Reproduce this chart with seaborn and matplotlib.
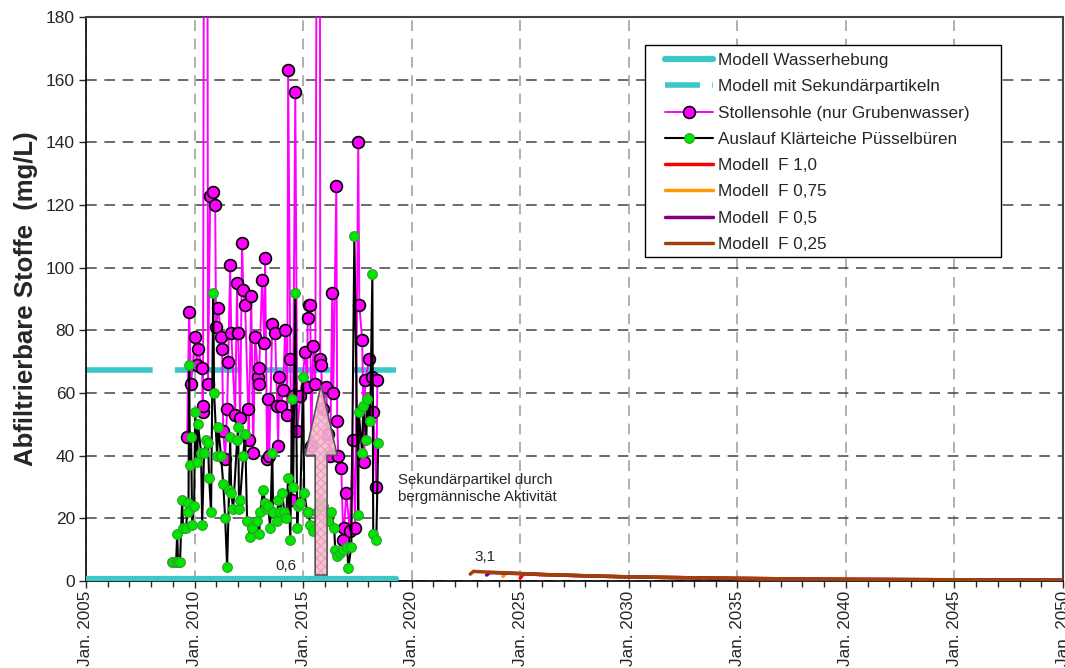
import numpy as np
import pandas as pd
import matplotlib
matplotlib.use("Agg")
import matplotlib.pyplot as plt
from matplotlib.lines import Line2D
from matplotlib.patches import FancyArrow, Rectangle
import seaborn as sns

# ---- measured series (decimal year, mg/L) ----
stollen_year = [2009.66, 2009.75, 2009.84, 2010.03, 2010.12, 2010.16, 2010.35, 2010.37, 2010.39,
                2010.53, 2010.62, 2010.72, 2010.86, 2010.95, 2010.99, 2011.09, 2011.22, 2011.27,
                2011.32, 2011.41, 2011.50, 2011.55, 2011.64, 2011.69, 2011.87, 2011.96, 2011.98,
                2012.01, 2012.10, 2012.19, 2012.24, 2012.33, 2012.47, 2012.49, 2012.61, 2012.70,
                2012.79, 2012.93, 2012.95, 2012.98, 2013.11, 2013.21, 2013.25, 2013.34, 2013.39,
                2013.44, 2013.58, 2013.71, 2013.81, 2013.85, 2013.90, 2013.99, 2014.08, 2014.17,
                2014.27, 2014.31, 2014.41, 2014.50, 2014.54, 2014.64, 2014.73, 2014.87, 2015.10,
                2015.19, 2015.21, 2015.28, 2015.33, 2015.37, 2015.47, 2015.56, 2015.74, 2015.79,
                2015.83, 2015.90, 2016.06, 2016.15, 2016.25, 2016.34, 2016.39, 2016.53, 2016.57,
                2016.62, 2016.76, 2016.85, 2016.89, 2016.99, 2017.15, 2017.28, 2017.40, 2017.54,
                2017.59, 2017.72, 2017.82, 2017.86, 2018.05, 2018.19, 2018.23, 2018.37, 2018.42]
stollen_val = [46, 86, 63, 78, 69, 74, 68, 54, 56,
               600, 63, 123, 124, 120, 81, 87, 78, 74,
               48, 39, 55, 70, 101, 79, 53, 95, 79,
               79, 52, 108, 93, 88, 55, 45, 91, 41,
               78, 65, 63, 68, 96, 76, 103, 39, 58,
               40, 82, 79, 56, 43, 65, 56, 61, 80,
               53, 163, 71, 26, 59, 156, 48, 59, 73,
               62, 84, 88, 88, 43, 75, 63, 500, 71,
               69, 55, 62, 47, 40, 92, 60, 126, 51,
               40, 36, 13, 17, 28, 16, 45, 17, 140,
               88, 77, 38, 64, 71, 65, 54, 30, 64]

auslauf_year = [2008.96, 2009.01, 2009.15, 2009.20, 2009.24, 2009.33, 2009.43, 2009.47, 2009.61,
                2009.70, 2009.72, 2009.75, 2009.79, 2009.84, 2009.89, 2009.98, 2010.03, 2010.12,
                2010.16, 2010.30, 2010.35, 2010.44, 2010.53, 2010.62, 2010.67, 2010.76, 2010.86,
                2010.90, 2011.04, 2011.09, 2011.22, 2011.32, 2011.41, 2011.50, 2011.59, 2011.64,
                2011.69, 2011.78, 2011.96, 2012.01, 2012.05, 2012.10, 2012.24, 2012.33, 2012.42,
                2012.56, 2012.65, 2012.88, 2012.98, 2013.02, 2013.16, 2013.25, 2013.34, 2013.39,
                2013.48, 2013.58, 2013.62, 2013.81, 2013.85, 2013.94, 2014.04, 2014.13, 2014.22,
                2014.31, 2014.41, 2014.50, 2014.54, 2014.64, 2014.73, 2014.77, 2014.87, 2015.00,
                2015.05, 2015.19, 2015.24, 2015.33, 2015.47, 2015.65, 2015.79, 2015.93, 2016.16,
                2016.30, 2016.43, 2016.48, 2016.57, 2016.71, 2016.85, 2017.03, 2017.08, 2017.22,
                2017.36, 2017.54, 2017.56, 2017.72, 2017.77, 2017.91, 2017.96, 2018.09, 2018.19,
                2018.23, 2018.37, 2018.46]
auslauf_val = [6, 6, 6, 15, 6, 6, 26, 17, 17,
               25, 22, 69, 37, 46, 18, 24, 54, 38,
               50, 41, 18, 41, 45, 44, 33, 22, 92,
               60, 40, 49, 40, 31, 20, 4.5, 29, 46,
               28, 23, 45, 49, 23, 26, 40, 47, 19,
               14, 17, 19, 15, 22, 29, 25, 23, 24,
               17, 41, 22, 19, 26, 22, 28, 22, 20,
               33, 13, 58, 30, 92, 17, 24, 25, 65,
               28, 22, 22, 18, 16, 22, 25, 24, 19,
               22, 17, 10, 8, 9, 10, 11, 4, 11,
               110, 21, 54, 41, 56, 45, 58, 51, 98,
               15, 13, 44]

# ---- model series ----
wasser_year = [2005.0, 2019.3]
wasser_val = [0.6, 0.6]
sekundaer_year = [2005.0, 2019.3]
sekundaer_val = [67.3, 67.3]

f025_year = [2022.70, 2022.85, 2023.0, 2024.0, 2025.0, 2026.0, 2027.0, 2028.0, 2029.0, 2030.0,
             2032.0, 2035.0, 2038.0, 2040.0, 2045.0, 2050.0]
f025_val = [2.2, 3.1, 3.0, 2.7, 2.4, 2.1, 1.9, 1.7, 1.5, 1.35, 1.1, 0.85, 0.65, 0.55, 0.4, 0.3]
f05_year = [2023.45, 2023.6, 2024.0, 2025.0, 2026.0, 2028.0, 2030.0, 2035.0, 2040.0, 2045.0, 2050.0]
f05_val = [1.9, 2.7, 2.6, 2.35, 2.05, 1.65, 1.3, 0.82, 0.52, 0.38, 0.28]
f075_year = [2024.2, 2024.35, 2025.0, 2026.0, 2028.0, 2030.0, 2035.0, 2040.0, 2045.0, 2050.0]
f075_val = [1.5, 2.5, 2.35, 2.05, 1.65, 1.3, 0.82, 0.52, 0.38, 0.28]
f10_year = [2025.0, 2025.15, 2026.0, 2028.0, 2030.0, 2035.0, 2040.0, 2045.0, 2050.0]
f10_val = [0.9, 2.3, 2.05, 1.65, 1.3, 0.82, 0.52, 0.38, 0.28]

year_ticks = list(range(2005, 2051, 5))
tick_labels = [f"Jan. {y}" for y in year_ticks]

CYAN = "#3CC8C8"
MAGENTA = "#FF00FF"
GREEN = "#00E600"

sns.set_theme(style="white")
plt.rcParams["font.family"] = ["Liberation Sans", "DejaVu Sans"]

W, H = 1065, 668
fig = plt.figure(figsize=(W / 100, H / 100), dpi=100)
ax = fig.add_axes([86 / W, 1 - 581 / H, (1063 - 86) / W, (581 - 17) / H])

# measured data
sns.lineplot(x=stollen_year, y=stollen_val, ax=ax, estimator=None, sort=False,
             color=MAGENTA, lw=1.4, marker="o", markersize=8.5,
             markerfacecolor=MAGENTA, markeredgecolor="black", markeredgewidth=1.2, zorder=3)
sns.lineplot(x=auslauf_year, y=auslauf_val, ax=ax, estimator=None, sort=False,
             color="black", lw=1.5, marker="o", markersize=7,
             markerfacecolor=GREEN, markeredgecolor="#2E9E2E", markeredgewidth=0.8, zorder=4)

# model lines
sns.lineplot(x=sekundaer_year, y=sekundaer_val, ax=ax, estimator=None, color=CYAN, lw=4,
             zorder=2).lines[-1].set_dashes((12, 4))
sns.lineplot(x=wasser_year, y=wasser_val, ax=ax, estimator=None, color=CYAN, lw=4.5, zorder=5)
sns.lineplot(x=f10_year, y=f10_val, ax=ax, estimator=None, color="#FF0000", lw=2.5, zorder=5)
sns.lineplot(x=f075_year, y=f075_val, ax=ax, estimator=None, color="#FF9900", lw=2.5, zorder=5)
sns.lineplot(x=f05_year, y=f05_val, ax=ax, estimator=None, color="#800080", lw=2.5, zorder=5)
sns.lineplot(x=f025_year, y=f025_val, ax=ax, estimator=None, color="#A0400A", lw=2.5, zorder=6)

# arrow marking the secondary particles: pink fill, fine hatch, grey outline
arrow_kw = dict(x=2015.83, y=1.9, dx=0, dy=60.7, width=0.55, head_width=1.48,
                head_length=22.5, length_includes_head=True)
ax.add_patch(FancyArrow(**arrow_kw, facecolor="#F7BCD2", edgecolor="#EA9CBA", lw=0,
                        hatch="xxxx", alpha=0.88, zorder=7))
ax.add_patch(FancyArrow(**arrow_kw, facecolor="none", edgecolor="#555555", lw=1.2, zorder=7))

ax.text(2019.35, 34.6, "Sekundärpartikel durch\nbergmännische Aktivität", fontsize=10.8,
        ha="left", va="top", linespacing=1.35, zorder=8)
ax.text(2014.22, 4.8, "0,6", fontsize=11, ha="center", va="center", zorder=8)
ax.text(2023.4, 7.7, "3,1", fontsize=11, ha="center", va="center", zorder=8)

# axes
ax.set_xlim(2005, 2050)
ax.set_ylim(0, 180)
ax.set_xticks(year_ticks)
ax.set_xticks(range(2005, 2051), minor=True)
ax.set_xticklabels(tick_labels, rotation=90, fontsize=12.3, ha="center", va="top")
ax.set_yticks(range(0, 181, 20))
ax.tick_params(axis="y", labelsize=12.5, direction="out", length=5, width=1, left=True, pad=3)
ax.tick_params(axis="x", which="major", direction="out", length=5, width=1, bottom=True, pad=2)
ax.tick_params(axis="x", which="minor", direction="out", length=4, width=1, bottom=True)
ax.set_ylabel("Abfiltrierbare Stoffe  (mg/L)", fontsize=18.5, fontweight="bold", labelpad=6)
ax.set_xlabel("")

ax.grid(axis="y", color="#444444", lw=1.1, dashes=(7, 5))
ax.grid(axis="x", color="#9A9A9A", lw=1.1, dashes=(7, 5))
ax.set_axisbelow(True)
for side in ["left", "bottom"]:
    ax.spines[side].set_color("black")
    ax.spines[side].set_linewidth(1.2)
for side in ["top", "right"]:
    ax.spines[side].set_color("#444444")
    ax.spines[side].set_linewidth(1.5)

# legend: white box with black frame, entries inside
box = Rectangle((645 / W, 1 - 257 / H), (1001 - 645) / W, (257 - 45) / H,
                transform=fig.transFigure, facecolor="white", edgecolor="black", lw=1.0,
                zorder=9)
ax.add_patch(box)
box.set_clip_on(False)

handles = [
    Line2D([], [], color=CYAN, lw=4.5),
    Line2D([], [], color=CYAN, lw=4, dashes=(6.3, 2.2)),
    Line2D([], [], color=MAGENTA, lw=1.4, marker="o", markersize=8.5,
           markerfacecolor=MAGENTA, markeredgecolor="black", markeredgewidth=1.2),
    Line2D([], [], color="black", lw=1.5, marker="o", markersize=7,
           markerfacecolor=GREEN, markeredgecolor="#2E9E2E", markeredgewidth=0.8),
    Line2D([], [], color="#FF0000", lw=2.5),
    Line2D([], [], color="#FF9900", lw=2.5),
    Line2D([], [], color="#800080", lw=2.5),
    Line2D([], [], color="#A0400A", lw=2.5),
]
labels = ["Modell Wasserhebung", "Modell mit Sekundärpartikeln", "Stollensohle (nur Grubenwasser)",
          "Auslauf Klärteiche Püsselbüren", "Modell  F 1,0", "Modell  F 0,75", "Modell  F 0,5",
          "Modell  F 0,25"]
leg = ax.legend(handles, labels, loc="upper left", bbox_to_anchor=((665 - 86) / 977, (581 - 53) / 564),
                borderaxespad=0, borderpad=0, fontsize=12.3, frameon=False,
                handlelength=2.8, handletextpad=0.3, labelspacing=0.66)
leg.set_zorder(10)

fig.savefig("out.png", dpi=100)
